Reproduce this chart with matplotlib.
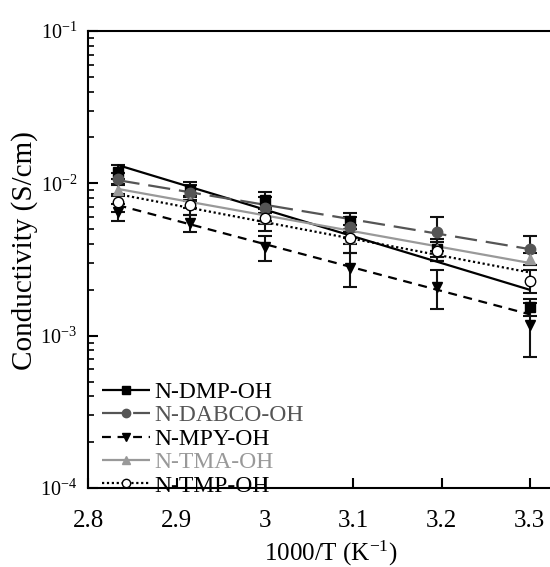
import matplotlib
matplotlib.use("Agg")
import matplotlib.pyplot as plt
import numpy as np

plt.rcParams['font.family'] = ['Liberation Serif', 'DejaVu Serif']
plt.rcParams['mathtext.fontset'] = 'custom'
plt.rcParams['mathtext.rm'] = 'Liberation Serif'
plt.rcParams['mathtext.it'] = 'Liberation Serif:italic'

# Data
x = [2.833, 2.915, 3.0, 3.096, 3.195, 3.300]
names = ["N-DMP-OH", "N-DABCO-OH", "N-MPY-OH", "N-TMA-OH", "N-TMP-OH"]
dmp = [0.0119, 0.0090, 0.0078, 0.0057, 0.0037, 0.00155]
dabco = [0.0107, 0.0087, 0.0069, 0.0052, 0.0048, 0.0037]
mpy = [0.0065, 0.0055, 0.0038, 0.0028, 0.0021, 0.00118]
tma = [0.0091, 0.0075, 0.0059, 0.0044, 0.0037, 0.0032]
tmp = [0.0075, 0.0072, 0.0059, 0.0044, 0.0036, 0.0023]
dmp_err = [0.0012, 0.0012, 0.0010, 0.0007, 0.0006, 0.0002]
dabco_err = [0.0010, 0.0010, 0.0012, 0.0008, 0.0012, 0.0008]
mpy_err = [0.0008, 0.0007, 0.0007, 0.0007, 0.0006, 0.00045]
tma_err = [0.0008, 0.0006, 0.0005, 0.0004, 0.0004, 0.0003]
tmp_err = [0.0010, 0.0010, 0.0010, 0.0009, 0.0005, 0.0004]
# Arrhenius fit lines (value at first and last x)
fit_x = [2.833, 3.300]
dmp_fit = [0.0132, 0.0020]
dabco_fit = [0.0105, 0.0037]
mpy_fit = [0.0072, 0.00138]
tma_fit = [0.0092, 0.0030]
tmp_fit = [0.0085, 0.0026]

fig = plt.figure(figsize=(5.5, 5.67), dpi=100)
ax = fig.add_axes([88.4/550, 0.1393, (574-88.4)/550, 0.806])

series = [
    (dmp, dmp_err, dmp_fit, 's', '#000000', '#000000', (0, ()), 'full'),
    (dabco, dabco_err, dabco_fit, 'o', '#555555', '#555555', (0, (10, 4)), 'full'),
    (mpy, mpy_err, mpy_fit, 'v', '#000000', '#000000', (0, (4, 3)), 'full'),
    (tma, tma_err, tma_fit, '^', '#999999', '#999999', (0, ()), 'full'),
    (tmp, tmp_err, tmp_fit, 'o', '#000000', '#000000', (0, (1, 1.2)), 'none'),
]

handles = []
for (vals, err, fit, mk, col, tcol, ls, fill), name in zip(series, names):
    ax.errorbar(x, vals, yerr=err, fmt='none', ecolor='#111111', elinewidth=1.5,
                capsize=5, capthick=1.5, zorder=2)
    ax.plot(fit_x, fit, color=col, lw=1.6, linestyle=ls, zorder=3)
    if fill == 'none':
        ax.plot(x, vals, linestyle='none', marker=mk, markersize=7.5,
                markerfacecolor='white', markeredgecolor=col, markeredgewidth=1.0, zorder=4)
    else:
        ax.plot(x, vals, linestyle='none', marker=mk, markersize=7.5,
                color=col, zorder=4)
    h, = ax.plot([], [], color=col, lw=1.6, linestyle=ls, marker=mk, markersize=6,
                 markerfacecolor=('white' if fill == 'none' else col), markeredgecolor=col)
    handles.append(h)

ax.set_yscale('log')
ax.set_ylim(1e-4, 1e-1)
ax.set_xlim(2.8, 3.35)
ax.set_xticks([2.8, 2.9, 3.0, 3.1, 3.2, 3.3])
ax.set_xticklabels(['2.8', '2.9', '3', '3.1', '3.2', '3.3'])

ax.tick_params(axis='both', which='both', direction='in')
ax.tick_params(axis='x', labelsize=18, pad=16)
ax.tick_params(axis='y', labelsize=14.5, pad=8)
ax.tick_params(axis='both', which='major', length=7, width=1.5)
ax.tick_params(axis='y', which='minor', length=4, width=1.2)
for s in ax.spines.values():
    s.set_linewidth(1.5)

ax.set_xlabel('1000/T (K$^{-1}$)', fontsize=18, labelpad=5)
ax.set_ylabel('Conductivity (S/cm)', fontsize=21)
ax.yaxis.set_label_coords(-0.104, 0.52)

leg = ax.legend(handles, names, loc='lower left', bbox_to_anchor=(-0.005, -0.055),
                frameon=False, fontsize=17, handlelength=2.0, handletextpad=0.2,
                labelspacing=0.08, borderaxespad=0.3)
for t, (_, _, _, _, _, tcol, _, _) in zip(leg.get_texts(), series):
    t.set_color(tcol)

fig.savefig('out.png', dpi=100)
